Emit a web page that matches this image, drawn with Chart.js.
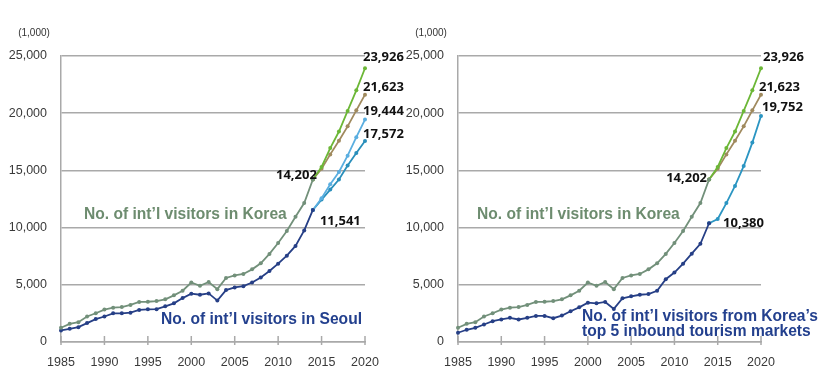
<!DOCTYPE html>
<html>
<head>
<meta charset="utf-8">
<script src="https://cdn.jsdelivr.net/npm/chart.js@4.4.1/dist/chart.umd.min.js"></script>
<style>
  html, body { margin: 0; padding: 0; background: #fff; }
  #wrap { position: relative; width: 837px; height: 385px; overflow: hidden; }
  canvas { position: absolute; top: 0; }
  #leftChart { left: 0; }
  #rightChart { left: 400px; }
</style>
</head>
<body>
<div id="wrap">
  <canvas id="leftChart" width="418" height="385"></canvas>
  <canvas id="rightChart" width="437" height="385"></canvas>
</div>
<script>
// --- Data (thousands of visitors) ---
const pastYears = [1985, 1986, 1987, 1988, 1989, 1990, 1991, 1992, 1993, 1994,
                   1995, 1996, 1997, 1998, 1999, 2000, 2001, 2002, 2003, 2004,
                   2005, 2006, 2007, 2008, 2009, 2010, 2011, 2012, 2013, 2014];
const forecastYears = [2014, 2015, 2016, 2017, 2018, 2019, 2020];

const koreaVisitors = [1250, 1590, 1730, 2230, 2510, 2830, 3000, 3050, 3240, 3500,
                       3520, 3580, 3730, 4080, 4480, 5200, 4910, 5250, 4620, 5600,
                       5820, 5950, 6350, 6880, 7700, 8650, 9700, 10950, 12150, 14202];
const seoulVisitors = [1010, 1150, 1300, 1650, 2000, 2230, 2510, 2510, 2560, 2800,
                       2860, 2870, 3120, 3380, 3840, 4220, 4130, 4250, 3620, 4540,
                       4770, 4880, 5200, 5640, 6210, 6850, 7550, 8400, 9750, 11541];
const top5Visitors = [810, 1070, 1240, 1530, 1820, 1970, 2110, 1970, 2110, 2280,
                      2280, 2080, 2310, 2690, 3030, 3440, 3380, 3500, 2890, 3820,
                      3990, 4130, 4190, 4480, 5490, 6070, 6850, 7720, 8580, 10380];

const koreaHigh = [14202, 15300, 16950, 18400, 20200, 22000, 23926];
const koreaLow = [14202, 15150, 16400, 17600, 18850, 20250, 21623];
const seoulHigh = [11541, 12570, 13790, 14860, 16290, 17900, 19444];
const seoulLow = [11541, 12450, 13320, 14200, 15420, 16520, 17572];
const top5Forecast = [10380, 10750, 12140, 13640, 15380, 17430, 19752];

const xTicks = [1985, 1990, 1995, 2000, 2005, 2010, 2015, 2020];

// --- Helpers ---
const toPoints = (xs, ys) => xs.map((x, i) => ({ x: x, y: ys[i] }));
const fmt = (v) => v.toLocaleString('en-US');

const series = (data, color) => ({
    data: data,
    borderColor: color,
    backgroundColor: color,
    borderWidth: 1.8,
    pointRadius: 2,
    pointHoverRadius: 2,
    pointBorderWidth: 0,
    tension: 0,
    clip: false
});

// --- Plugin: axis ticks, unit, value labels, series names ---
const decorations = {
    id: 'decorations',
    afterDatasetsDraw(chart, args, opts) {
        const ctx = chart.ctx;
        const area = chart.chartArea;
        const xs = chart.scales.x;
        ctx.save();

        // small upward ticks on x axis
        ctx.strokeStyle = '#a9a9a9';
        ctx.lineWidth = 1.5;
        xTicks.forEach(t => {
            const px = xs.getPixelForValue(t);
            ctx.beginPath();
            ctx.moveTo(px, area.bottom - 6);
            ctx.lineTo(px, area.bottom + 3);
            ctx.stroke();
        });

        // unit label
        ctx.fillStyle = '#333';
        ctx.font = '10px "Liberation Sans"';
        ctx.textAlign = 'center';
        ctx.textBaseline = 'middle';
        ctx.fillText('(1,000)', area.left - 27, 33);

        // value labels
        ctx.font = 'bold 13px "Noto Sans"';
        ctx.fillStyle = '#111';
        opts.values.forEach(it => {
            const el = chart.getDatasetMeta(it.ds).data[it.idx];
            const v = chart.data.datasets[it.ds].data[it.idx].y;
            ctx.textAlign = it.align;
            ctx.fillText(fmt(v), el.x + it.dx, el.y + it.dy);
        });

        // series names
        ctx.font = 'bold 15.6px "Liberation Sans"';
        ctx.textAlign = 'left';
        opts.names.forEach(n => {
            ctx.fillStyle = n.color;
            ctx.fillText(n.text, n.x, n.y);
        });
        ctx.restore();
    }
};

const makeOptions = (yWidth, padRight, deco) => ({
    responsive: false,
    animation: false,
    layout: { padding: { top: 56, right: padRight, left: 0, bottom: 0 } },
    plugins: { legend: { display: false }, tooltip: { enabled: false }, decorations: deco },
    scales: {
        x: {
            type: 'linear',
            min: 1985,
            max: 2020,
            afterFit: (s) => { s.height = 43; },
            grid: { display: false, drawTicks: false },
            border: { color: '#a9a9a9', width: 1.5 },
            ticks: {
                stepSize: 5,
                padding: 13,
                color: '#3a3a3a',
                font: { family: 'Liberation Sans', size: 12.5 },
                callback: (v) => String(v)
            }
        },
        y: {
            min: 0,
            max: 25000,
            afterFit: (s) => { s.width = yWidth; },
            grid: { color: '#a9a9a9', lineWidth: 1.5, drawTicks: false },
            border: { color: '#a9a9a9', width: 1.5 },
            ticks: {
                stepSize: 5000,
                padding: 14,
                color: '#3a3a3a',
                font: { family: 'Liberation Sans', size: 12.5 },
                callback: (v) => fmt(v)
            }
        }
    }
});

const KOREA = '#72907a';
const NAVY = '#263f86';

// --- Left chart: Korea vs Seoul ---
new Chart(document.getElementById('leftChart'), {
    type: 'line',
    data: {
        datasets: [
            series(toPoints(pastYears, koreaVisitors), KOREA),
            series(toPoints(pastYears, seoulVisitors), NAVY),
            series(toPoints(forecastYears, koreaHigh), '#6cb737'),
            series(toPoints(forecastYears, koreaLow), '#a08a5e'),
            series(toPoints(forecastYears, seoulHigh), '#5aaee0'),
            series(toPoints(forecastYears, seoulLow), '#2a8fbb')
        ]
    },
    plugins: [decorations],
    options: makeOptions(61, 53, {
        values: [
            { ds: 2, idx: 6, align: 'left', dx: -2, dy: -11 },
            { ds: 3, idx: 6, align: 'left', dx: -2, dy: -7 },
            { ds: 4, idx: 6, align: 'left', dx: -2, dy: -8 },
            { ds: 5, idx: 6, align: 'left', dx: -2, dy: -7 },
            { ds: 0, idx: 29, align: 'right', dx: 4, dy: -4 },
            { ds: 1, idx: 29, align: 'left', dx: 7, dy: 11 }
        ],
        names: [
            { text: 'No. of int\u2019l visitors in Korea', x: 84, y: 215, color: '#6d8c6f' },
            { text: 'No. of int\u2019l visitors in Seoul', x: 161, y: 320, color: '#23408e' }
        ]
    })
});

// --- Right chart: Korea vs top 5 inbound markets ---
new Chart(document.getElementById('rightChart'), {
    type: 'line',
    data: {
        datasets: [
            series(toPoints(pastYears, koreaVisitors), KOREA),
            series(toPoints(pastYears, top5Visitors), NAVY),
            series(toPoints(forecastYears, koreaHigh), '#6cb737'),
            series(toPoints(forecastYears, koreaLow), '#a08a5e'),
            series(toPoints(forecastYears, top5Forecast), '#2b95c2')
        ]
    },
    plugins: [decorations],
    options: makeOptions(58, 76, {
        values: [
            { ds: 2, idx: 6, align: 'left', dx: 2, dy: -11 },
            { ds: 3, idx: 6, align: 'left', dx: -2, dy: -7 },
            { ds: 4, idx: 6, align: 'left', dx: 1, dy: -9 },
            { ds: 0, idx: 29, align: 'right', dx: -2, dy: -1 },
            { ds: 1, idx: 29, align: 'left', dx: 14, dy: 0 }
        ],
        names: [
            { text: 'No. of int\u2019l visitors in Korea', x: 77, y: 215, color: '#6d8c6f' },
            { text: 'No. of int\u2019l visitors from Korea\u2019s', x: 182, y: 317, color: '#23408e' },
            { text: 'top 5 inbound tourism markets', x: 182, y: 332, color: '#23408e' }
        ]
    })
});
</script>
</body>
</html>
